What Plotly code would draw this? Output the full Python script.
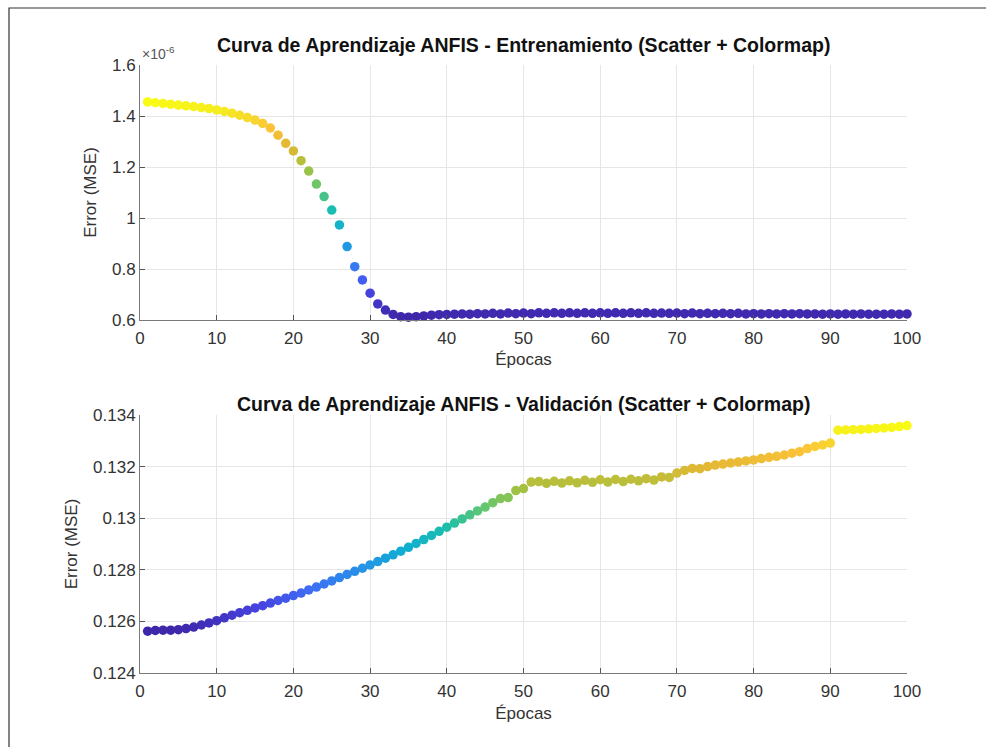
import plotly.graph_objects as go

epochs = list(range(1, 101))

# Training MSE (in units of 1e-6)
train_mse_e6 = [
    1.455, 1.452, 1.449, 1.446, 1.443, 1.440, 1.437, 1.433, 1.429, 1.424,
    1.418, 1.411, 1.403, 1.394, 1.384, 1.371, 1.353, 1.325, 1.293, 1.263,
    1.225, 1.184, 1.133, 1.084, 1.031, 0.973, 0.888, 0.809, 0.757, 0.705,
    0.663, 0.639, 0.622, 0.613, 0.611, 0.613, 0.616, 0.619, 0.621, 0.622,
    0.623, 0.624, 0.623, 0.625, 0.624, 0.626, 0.624, 0.627, 0.625, 0.627,
    0.625, 0.628, 0.626, 0.628, 0.626, 0.628, 0.626, 0.628, 0.626, 0.628,
    0.626, 0.628, 0.626, 0.628, 0.626, 0.628, 0.626, 0.627, 0.626, 0.627,
    0.625, 0.627, 0.625, 0.626, 0.625, 0.626, 0.625, 0.626, 0.624, 0.625,
    0.624, 0.625, 0.624, 0.625, 0.624, 0.625, 0.624, 0.624, 0.623, 0.624,
    0.623, 0.624, 0.623, 0.624, 0.623, 0.623, 0.623, 0.624, 0.623, 0.624,
]

# Validation MSE
val_mse = [
    0.12562, 0.12565, 0.12566, 0.12566, 0.12568, 0.12572, 0.12578, 0.12586, 0.12594, 0.12603,
    0.12614, 0.12624, 0.12634, 0.12643, 0.12652, 0.12661, 0.12671, 0.12681, 0.12690, 0.12700,
    0.12710, 0.12722, 0.12733, 0.12745, 0.12757, 0.12770, 0.12782, 0.12794, 0.12806, 0.12819,
    0.12832, 0.12845, 0.12858, 0.12872, 0.12887, 0.12902, 0.12917, 0.12933, 0.12949, 0.12965,
    0.12981, 0.12997, 0.13013, 0.13028, 0.13043, 0.13060, 0.13076, 0.13080, 0.13107, 0.13115,
    0.13140, 0.13142, 0.13135, 0.13143, 0.13136, 0.13145, 0.13137, 0.13147, 0.13139, 0.13149,
    0.13140, 0.13150, 0.13142, 0.13151, 0.13145, 0.13153, 0.13148, 0.13160, 0.13158, 0.13175,
    0.13185, 0.13193, 0.13192, 0.13200, 0.13206, 0.13210, 0.13214, 0.13218, 0.13222, 0.13226,
    0.13231, 0.13236, 0.13240, 0.13245, 0.13252, 0.13258, 0.13270, 0.13278, 0.13284, 0.13291,
    0.13341, 0.13342, 0.13343, 0.13344, 0.13346, 0.13348, 0.13350, 0.13352, 0.13355, 0.13359,
]

x_ticks = [0, 10, 20, 30, 40, 50, 60, 70, 80, 90, 100]
train_ticks_e6 = [0.6, 0.8, 1.0, 1.2, 1.4, 1.6]
train_tick_text = ["0.6", "0.8", "1", "1.2", "1.4", "1.6"]
val_ticks = [0.124, 0.126, 0.128, 0.130, 0.132, 0.134]
val_tick_text = ["0.124", "0.126", "0.128", "0.13", "0.132", "0.134"]

title_train = "Curva de Aprendizaje ANFIS - Entrenamiento (Scatter + Colormap)"
title_val = "Curva de Aprendizaje ANFIS - Validación (Scatter + Colormap)"

parula = [
    [0.00, "rgb(62,38,168)"],
    [0.12, "rgb(70,68,225)"],
    [0.20, "rgb(62,108,245)"],
    [0.30, "rgb(38,145,232)"],
    [0.40, "rgb(16,174,210)"],
    [0.50, "rgb(26,190,175)"],
    [0.60, "rgb(98,198,112)"],
    [0.70, "rgb(168,193,62)"],
    [0.80, "rgb(228,184,52)"],
    [0.88, "rgb(252,195,56)"],
    [0.95, "rgb(245,230,36)"],
    [1.00, "rgb(249,251,20)"],
]

train_mse = [v * 1e-6 for v in train_mse_e6]

FONT = "Liberation Sans, Arial, sans-serif"
W, H = 986, 747
L, R, T, B = 140, 79, 65, 74
plot_h = H - T - B

def ydom(top_px, bot_px):
    return [(H - B - bot_px) / plot_h, (H - B - top_px) / plot_h]

fig = go.Figure()
fig.add_trace(go.Scatter(
    x=epochs, y=train_mse, mode="markers", xaxis="x", yaxis="y",
    marker=dict(size=9.5, color=train_mse, colorscale=parula,
                cmin=min(train_mse), cmax=max(train_mse), line=dict(width=0)),
    showlegend=False, cliponaxis=False,
))
fig.add_trace(go.Scatter(
    x=epochs, y=val_mse, mode="markers", xaxis="x2", yaxis="y2",
    marker=dict(size=9.5, color=val_mse, colorscale=parula,
                cmin=min(val_mse), cmax=max(val_mse), line=dict(width=0)),
    showlegend=False, cliponaxis=False,
))

TXT = "#333333"
axis_common = dict(
    showgrid=True, gridcolor="#e6e6e6", gridwidth=1,
    showline=True, linecolor="#7a7a7a", linewidth=1,
    ticks="inside", ticklen=5, tickcolor="#555555",
    tickfont=dict(family=FONT, size=17, color=TXT),
    zeroline=False, mirror=False,
)
xaxis_common = dict(axis_common, ticklabelstandoff=3)

fig.update_layout(
    width=W, height=H,
    paper_bgcolor="white", plot_bgcolor="white",
    margin=dict(l=L, r=R, t=T, b=B),
    font=dict(family=FONT, color=TXT),
    xaxis=dict(xaxis_common, range=[0, 100], tickvals=x_ticks, anchor="y",
               domain=[0, 1],
               title=dict(text="Épocas", font=dict(family=FONT, size=17, color=TXT), standoff=5)),
    yaxis=dict(axis_common, range=[0.6e-6, 1.6e-6], tickvals=[v * 1e-6 for v in train_ticks_e6],
               ticktext=train_tick_text, domain=ydom(65, 320), anchor="x",
               title=dict(text="Error (MSE)", font=dict(family=FONT, size=17, color=TXT), standoff=11)),
    xaxis2=dict(xaxis_common, range=[0, 100], tickvals=x_ticks, anchor="y2",
                domain=[0, 1],
                title=dict(text="Épocas", font=dict(family=FONT, size=17, color=TXT), standoff=6)),
    yaxis2=dict(axis_common, range=[0.124, 0.134], tickvals=val_ticks,
                ticktext=val_tick_text, domain=ydom(415, 673), anchor="x2",
                title=dict(text="Error (MSE)", font=dict(family=FONT, size=17, color=TXT), standoff=11)),
    annotations=[
        dict(text="<b>" + title_train + "</b>", xref="paper", yref="paper",
             x=0.5, y=(H - B - 45) / plot_h, xanchor="center", yanchor="middle",
             showarrow=False, font=dict(family=FONT, size=19.5, color="#111111")),
        dict(text="<b>" + title_val + "</b>", xref="paper", yref="paper",
             x=0.5, y=(H - B - 404) / plot_h, xanchor="center", yanchor="middle",
             showarrow=False, font=dict(family=FONT, size=19.5, color="#111111")),
        dict(text="×10<sup>-6</sup>", xref="paper", yref="paper",
             x=0, y=(H - B - 53) / plot_h, xanchor="left", yanchor="middle",
             showarrow=False, font=dict(family=FONT, size=14, color="#555555")),
    ],
    shapes=[
        dict(type="rect", xref="paper", yref="paper",
             x0=(9 - L) / (W - L - R), x1=(W + 5 - L) / (W - L - R),
             y0=(H - B - (H + 5)) / plot_h, y1=(H - B - 8) / plot_h,
             line=dict(color="#333333", width=1.2), fillcolor="rgba(0,0,0,0)", layer="below"),
    ],
)

fig.write_html("out.html")
